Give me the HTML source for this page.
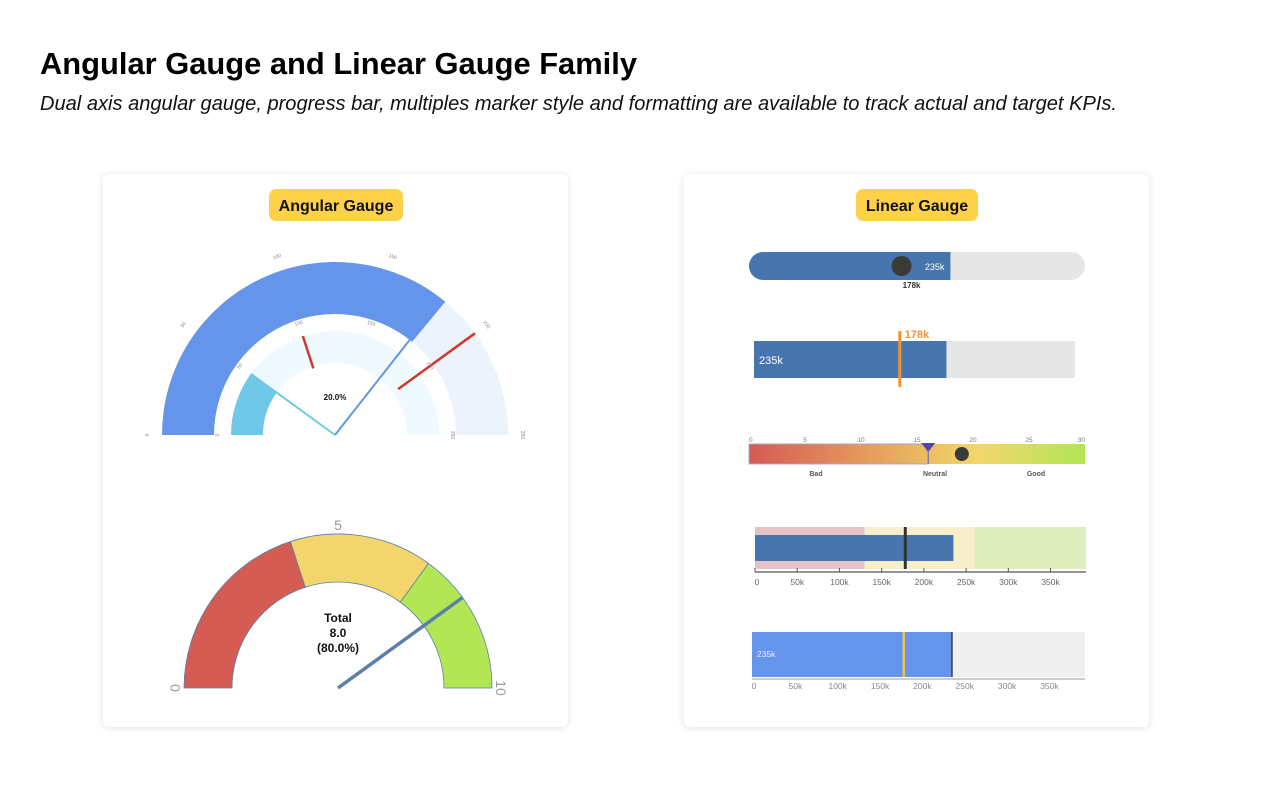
<!DOCTYPE html>
<html><head><meta charset="utf-8">
<style>
body{margin:0;background:#fff;width:1280px;height:800px;overflow:hidden;font-family:"Liberation Sans",sans-serif;}
.card{position:absolute;background:#fff;border-radius:6px;box-shadow:0 1px 8px rgba(0,0,0,0.12);}
svg{position:absolute;left:0;top:0;}
</style></head>
<body>
<div class="card" style="left:103px;top:174px;width:465px;height:553px;"></div>
<div class="card" style="left:684px;top:174px;width:465px;height:553px;"></div>
<svg id="s" width="1280" height="800" font-family="Liberation Sans, sans-serif">
<text x="40" y="74" font-size="31" font-weight="bold" fill="#000" textLength="597" lengthAdjust="spacingAndGlyphs">Angular Gauge and Linear Gauge Family</text>
<text x="40" y="110" font-size="20" font-style="italic" fill="#111" textLength="1077" lengthAdjust="spacingAndGlyphs">Dual axis angular gauge, progress bar, multiples marker style and formatting are available to track actual and target KPIs.</text>
<g><rect x="269" y="189" width="134" height="32" rx="7" fill="#ffd04a"/><text x="336" y="211" text-anchor="middle" font-size="16" font-weight="bold" fill="#111">Angular Gauge</text></g>
<g><rect x="856" y="189" width="122" height="32" rx="7" fill="#ffd04a"/><text x="917" y="211" text-anchor="middle" font-size="16" font-weight="bold" fill="#111">Linear Gauge</text></g>
<g id="g"></g>
</svg>
<script>
// Gauge 1 (dual axis)
const g1Max = 250;
const g1OuterValue = 180;
const g1OuterTarget = 200;
const g1InnerValue = 50;
const g1InnerTarget = 100;
const g1Pointer = 178;
const g1Ticks = [0, 50, 100, 150, 200, 250];
const g1Percent = "20.0%";
// Gauge 2
const g2Max = 10;
const g2Bands = [4, 7, 10];
const g2Value = 8;
const g2Ticks = [0, 5, 10];
// Linear gauges
const linMax = 392;
const actualK = 235;
const targetK = 178;
const bulletBands = [130, 260, 392];
const bulletTicks = [0, 50, 100, 150, 200, 250, 300, 350];
const scoreTicks = [0, 5, 10, 15, 20, 25, 30];
const scoreTarget = 16;
const scoreValue = 19;
const scoreLabels = ["Bad", "Neutral", "Good"];

const NS = "http://www.w3.org/2000/svg";
const G = document.getElementById('g');
function el(tag, attrs, parent, txt) {
  const e = document.createElementNS(NS, tag);
  for (const k in attrs) e.setAttribute(k, attrs[k]);
  if (txt !== undefined) e.textContent = txt;
  (parent || G).appendChild(e);
  return e;
}
function pt(cx, cy, r, v, max) { const a = Math.PI * (1 - v / max); return [cx + r * Math.cos(a), cy - r * Math.sin(a)]; }
function sector(cx, cy, r0, r1, v0, v1, max) {
  const a = pt(cx, cy, r1, v0, max), b = pt(cx, cy, r1, v1, max), c = pt(cx, cy, r0, v1, max), d = pt(cx, cy, r0, v0, max);
  return `M${a[0]},${a[1]} A${r1},${r1} 0 0 1 ${b[0]},${b[1]} L${c[0]},${c[1]} A${r0},${r0} 0 0 0 ${d[0]},${d[1]} Z`;
}
function line(p, q, stroke, w, name) {
  const l = el('line', {x1: p[0], y1: p[1], x2: q[0], y2: q[1], stroke: stroke, 'stroke-width': w});
  
  
  return l;
}

// ---- Gauge 1 ----
const c1x = 335, c1y = 435;
let e;
e = el('path', {d: sector(c1x, c1y, 121, 173, 0, g1Max, g1Max), fill: '#ecf3fd'});
 
e = el('path', {d: sector(c1x, c1y, 121, 173, 0, g1OuterValue, g1Max), fill: '#6495ea'});
 
e = el('path', {d: sector(c1x, c1y, 72, 104, 0, g1Max, g1Max), fill: '#eefaff'});
 
e = el('path', {d: sector(c1x, c1y, 72, 104, 0, g1InnerValue, g1Max), fill: '#6fc8e8'});
 
line(pt(c1x, c1y, 78, g1OuterTarget, g1Max), pt(c1x, c1y, 173, g1OuterTarget, g1Max), '#cc3a2c', 2.5, 'outer-target-marker');
line(pt(c1x, c1y, 70, g1InnerTarget, g1Max), pt(c1x, c1y, 104, g1InnerTarget, g1Max), '#cc3a2c', 2.5, 'inner-target-marker');
line([c1x, c1y], pt(c1x, c1y, 104, g1InnerValue, g1Max), '#6fc8e8', 2, 'inner-needle');
line([c1x, c1y], pt(c1x, c1y, 121, g1Pointer, g1Max), '#6495ea', 2, 'outer-needle');
g1Ticks.forEach(t => {
  [[176, 183], [107, 113]].forEach(([r0, r1]) => {
    const p = pt(c1x, c1y, r1 + 3, t, g1Max);
    const a = 90 - 180 * t / g1Max;
    const tx = el('text', {x: p[0], y: p[1], 'font-size': 5, fill: '#888', 'text-anchor': 'middle', transform: `rotate(${-a + 0} ${p[0]} ${p[1]})`}, G, t);
    
    
  });
});
e = el('text', {x: c1x, y: 400, 'font-size': 8, 'font-weight': 'bold', 'text-anchor': 'middle', fill: '#111'}, G, g1Percent);
 

// ---- Gauge 2 ----
const c2x = 338, c2y = 688;
const bandColors = ['#d55c53', '#f2d66c', '#b2e655'];
let prev = 0;
g2Bands.forEach((b, i) => {
  const p = el('path', {d: sector(c2x, c2y, 106, 154, prev, b, g2Max), fill: bandColors[i], stroke: '#5a7fae', 'stroke-width': 0.8});
  
  
  prev = b;
});
g2Ticks.forEach(t => {
  const p = pt(c2x, c2y, 162, t, g2Max);
  const a = 90 - 180 * t / g2Max;
  const tx = el('text', {x: p[0], y: p[1] + 4, 'font-size': 14, fill: '#999', 'text-anchor': 'middle', transform: `rotate(${-a} ${p[0]} ${p[1]})`}, G, t);
  
  
});
line([c2x, c2y], pt(c2x, c2y, 154, g2Value, g2Max), '#5b7fab', 3.5, 'gauge2-needle');
[['Total', 622], [g2Value.toFixed(1), 637], ['(' + (g2Value / g2Max * 100).toFixed(1) + '%)', 652]].forEach(([s, y]) => {
  const tx = el('text', {x: c2x, y: y, 'font-size': 12, 'font-weight': 'bold', 'text-anchor': 'middle', fill: '#111'}, G, s);
  
  
});

// ---- Linear 1: rounded progress ----
function sx(x0, w) { return v => x0 + v / linMax * w; }
let X = sx(749, 336);
e = el('rect', {x: 749, y: 252, width: 336, height: 28, rx: 14, fill: '#e6e6e6'});
 
el('clipPath', {id: 'c1'});
document.getElementById('c1').appendChild(Object.assign(document.createElementNS(NS, 'rect'), {}));
const cr = document.getElementById('c1').firstChild;
cr.setAttribute('x', 749); cr.setAttribute('y', 252); cr.setAttribute('width', 336); cr.setAttribute('height', 28); cr.setAttribute('rx', 14);
e = el('rect', {x: 749, y: 252, width: X(actualK) - 749, height: 28, fill: '#4776af', 'clip-path': 'url(#c1)'});
 
e = el('text', {x: X(actualK) - 6, y: 270, 'font-size': 9, fill: '#fff', 'text-anchor': 'end'}, G, actualK + 'k');
 
e = el('circle', {cx: X(targetK), cy: 266, r: 10, fill: '#3a3a3a'});
 
e = el('text', {x: X(targetK) + 10, y: 288, 'font-size': 8, 'font-weight': 'bold', fill: '#333', 'text-anchor': 'middle'}, G, targetK + 'k');
 

// ---- Linear 2: bar with orange target ----
X = sx(754, 321);
e = el('rect', {x: 754, y: 341, width: 321, height: 37, fill: '#e6e6e6'});
 
e = el('rect', {x: 754, y: 341, width: X(actualK) - 754, height: 37, fill: '#4776af'});
 
e = el('text', {x: 759, y: 364, 'font-size': 11, fill: '#fff'}, G, actualK + 'k');
 
e = el('rect', {x: X(targetK) - 1.5, y: 331, width: 3, height: 56, fill: '#ef9535'});
 
e = el('text', {x: X(targetK) + 5, y: 338, 'font-size': 11, 'font-weight': 'bold', fill: '#ef9535'}, G, targetK + 'k');
 

// ---- Linear 3: gradient score ----
const sMax = scoreTicks[scoreTicks.length - 1];
const S = v => 749 + v / sMax * 336;
const defs = el('defs', {});
const lg = el('linearGradient', {id: 'grad', x1: 0, x2: 1, y1: 0, y2: 0}, defs);
[['0', '#d55a53'], ['0.55', '#ecc062'], ['0.68', '#f2d66c'], ['1', '#b2e655']].forEach(([o, c]) => el('stop', {offset: o, 'stop-color': c}, lg));
e = el('rect', {x: 749, y: 444, width: 336, height: 20, fill: 'url(#grad)'});
 
e = el('rect', {x: 749, y: 444, width: S(scoreTarget) - 749, height: 20, fill: 'none', stroke: '#a9a3d6', 'stroke-width': 1});
 
scoreTicks.forEach(t => {
  const tx = el('text', {x: S(t), y: 442, 'font-size': 6.5, fill: '#777', 'text-anchor': t === 0 ? 'start' : (t === sMax ? 'end' : 'middle')}, G, t);
  
  
});
e = el('path', {d: `M${S(scoreTarget) - 7},443 L${S(scoreTarget) + 7},443 L${S(scoreTarget)},452 Z`, fill: '#5046a8'});
 
line([S(scoreTarget), 450], [S(scoreTarget), 464], '#6a62b4', 1, 'score-target-line');
e = el('circle', {cx: S(scoreValue), cy: 454, r: 7, fill: '#3a3a3a'});
 
[816, 935, 1036].forEach((x, i) => {
  const tx = el('text', {x: x, y: 476, 'font-size': 7, 'font-weight': 'bold', fill: '#555', 'text-anchor': 'middle'}, G, scoreLabels[i]);
  
  
});

// ---- Linear 4: bullet ----
const B = v => 755 + v / linMax * 331;
const bandFill = ['#e6c3c3', '#f8eec8', '#dfeebf'];
let pv = 0;
bulletBands.forEach((b, i) => {
  const r = el('rect', {x: B(pv), y: 527, width: B(b) - B(pv), height: 42, fill: bandFill[i]});
  
  
  pv = b;
});
e = el('rect', {x: B(0), y: 535, width: B(actualK) - B(0), height: 26, fill: '#4776af'});
 
e = el('rect', {x: B(targetK) - 1.5, y: 527, width: 3, height: 42, fill: '#333'});
 
line([B(0), 572], [B(linMax), 572], '#555', 1.2, 'bullet-axis-line');
bulletTicks.forEach(t => {
  line([B(t), 568], [B(t), 572], '#555', 1, 'bullet-axis-tick');
  const tx = el('text', {x: B(t) + (t === 0 ? 2 : 0), y: 585, 'font-size': 8.5, fill: '#666', 'text-anchor': 'middle'}, G, t === 0 ? '0' : t + 'k');
  
  
});

// ---- Linear 5: blue bar ----
const P = v => 753 + v / linMax * 332;
e = el('rect', {x: 752, y: 632, width: 333, height: 45, fill: '#efefef'});
 
e = el('rect', {x: 752, y: 632, width: P(actualK) - 752, height: 45, fill: '#6495ea'});
 
line([P(actualK), 632], [P(actualK), 677], '#223', 1.2, 'bar5-end-line');
e = el('rect', {x: P(targetK) - 1.2, y: 632, width: 2.4, height: 45, fill: '#f2c34a'});
 
e = el('text', {x: 757, y: 657, 'font-size': 8.5, fill: '#eef'}, G, actualK + 'k');
 
line([752, 679], [1085, 679], '#bbb', 1.5, 'bar5-axis-line');
bulletTicks.forEach(t => {
  const tx = el('text', {x: P(t) + (t === 0 ? 1 : 0), y: 689, 'font-size': 8.5, fill: '#888', 'text-anchor': 'middle'}, G, t === 0 ? '0' : t + 'k');
  
  
});
</script>
</body></html>
